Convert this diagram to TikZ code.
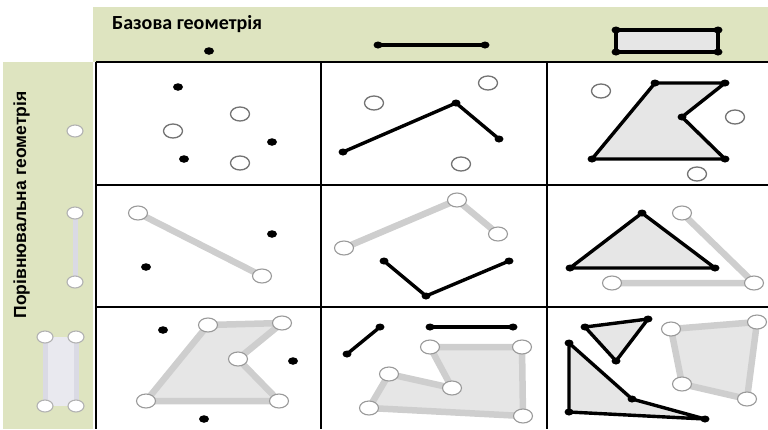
\documentclass[tikz,border=0pt]{standalone}
\usepackage{fontspec}
\usetikzlibrary{shapes.geometric}
\newfontfamily\hdrfont{Carlito}
\newfontfamily\sidefont{Liberation Sans}
\definecolor{band}{RGB}{222,228,192}
\definecolor{gline}{RGB}{206,206,206}
\definecolor{gfill}{RGB}{230,230,230}
\definecolor{lfill}{RGB}{218,218,228}
\tikzset{
  gridline/.style={line width=1.4, black},
  bline/.style={line width=3.4, black, line join=round, line cap=round},
  gpath/.style={line width=6.5, gline, line join=round, line cap=round},
  bdot/.style={ellipse, fill=black, inner sep=0, minimum width=10, minimum height=7.5},
  vdot/.style={ellipse, fill=black, inner sep=0, minimum width=9, minimum height=7},
  odot/.style={ellipse, draw=black!55, fill=white, line width=1.3, inner sep=0, minimum width=19, minimum height=14},
  godot/.style={ellipse, draw=black!40, fill=white, line width=1.1, inner sep=0, minimum width=19, minimum height=14},
  sodot/.style={ellipse, draw=black!30, fill=white, line width=1.1, inner sep=0, minimum width=16, minimum height=12},
}
\begin{document}
\begin{tikzpicture}[x=1pt,y=-1pt]
\useasboundingbox (0,0) rectangle (768,429);
% bands
\fill[band] (93,7) rectangle (768,62);
\fill[band] (3,62) rectangle (93,429);
% grid
\draw[gridline] (96,62) -- (768,62);
\draw[gridline] (96,62) -- (96,429);
\draw[gridline] (321,62) -- (321,429);
\draw[gridline] (547,62) -- (547,429);
\draw[gridline] (96,185) -- (768,185);
\draw[gridline] (96,307) -- (768,307);
% headers
\node[anchor=base west, inner sep=0, font=\hdrfont\bfseries\fontsize{20}{20}\selectfont] (title) at (112,29) {Базова геометрія};
\node[rotate=90, anchor=base, inner sep=0, font=\sidefont\bfseries\fontsize{17.5}{17.5}\selectfont] (side) at (26,205) {Порівнювальна геометрія};
% top header icons
\node[bdot] (hp) at (209,51) {};
\coordinate (hla) at (378,45); \coordinate (hlb) at (485,45);
\draw[bline, line width=3.8] (hla) -- (hlb);
\node[vdot] (hl1) at (hla) {}; \node[vdot] (hl2) at (hlb) {};
\coordinate (hr1) at (616,30); \coordinate (hr2) at (718,30); \coordinate (hr3) at (718,52); \coordinate (hr4) at (616,52);
\draw[bline, line width=3.8, fill=gfill] (hr1) -- (hr2) -- (hr3) -- (hr4) -- cycle;
\foreach \c in {hr1,hr2,hr3,hr4} \node[vdot] (d\c) at (\c) {};
% side header icons
\node[sodot] (sp) at (75,131) {};
\coordinate (sla) at (75,213); \coordinate (slb) at (75,282);
\draw[gpath, lfill, line width=5] (sla) -- (slb);
\node[sodot] (sl1) at (sla) {}; \node[sodot] (sl2) at (slb) {};
\coordinate (sr1) at (45,337); \coordinate (sr2) at (76,337); \coordinate (sr3) at (76,406); \coordinate (sr4) at (45,406);
\fill[lfill!60!white] (sr1) rectangle (sr3);
\draw[gpath, lfill, line width=5] (sr1) -- (sr4);
\draw[gpath, lfill, line width=5] (sr2) -- (sr3);
\foreach \c in {sr1,sr2,sr3,sr4} \node[sodot] (d\c) at (\c) {};
% ---- cell 1,1
\node[bdot] (a1) at (178,87) {};
\node[bdot] (a2) at (272,142) {};
\node[bdot] (a3) at (184,159) {};
\node[odot] (a4) at (240,114) {};
\node[odot] (a5) at (173,131) {};
\node[odot] (a6) at (240,163) {};
% ---- cell 1,2
\coordinate (b1) at (343,152); \coordinate (b2) at (456,103); \coordinate (b3) at (499,139);
\draw[bline] (b1) -- (b2) -- (b3);
\foreach \c in {b1,b2,b3} \node[vdot] (d\c) at (\c) {};
\node[odot] (b4) at (374,103) {};
\node[odot] (b5) at (488,83) {};
\node[odot] (b6) at (461,164) {};
% ---- cell 1,3
\coordinate (c1) at (655,83); \coordinate (c2) at (725,83); \coordinate (c3) at (682,117); \coordinate (c4) at (725,159); \coordinate (c5) at (592,159);
\draw[bline, fill=gfill] (c1) -- (c2) -- (c3) -- (c4) -- (c5) -- cycle;
\foreach \c in {c1,c2,c3,c4,c5} \node[vdot] (d\c) at (\c) {};
\node[odot] (c6) at (601,91) {};
\node[odot] (c7) at (735,117) {};
\node[odot] (c8) at (697,174) {};
% ---- cell 2,1
\coordinate (e1) at (138,213); \coordinate (e2) at (262,276);
\draw[gpath] (e1) -- (e2);
\node[godot] (de1) at (e1) {}; \node[godot] (de2) at (e2) {};
\node[bdot] (e3) at (272,234) {};
\node[bdot] (e4) at (146,267) {};
% ---- cell 2,2
\coordinate (f1) at (344,248); \coordinate (f2) at (457,200); \coordinate (f3) at (498,234);
\draw[gpath] (f1) -- (f2) -- (f3);
\foreach \c in {f1,f2,f3} \node[godot] (d\c) at (\c) {};
\coordinate (f4) at (384,261); \coordinate (f5) at (426,296); \coordinate (f6) at (509,261);
\draw[bline] (f4) -- (f5) -- (f6);
\foreach \c in {f4,f5,f6} \node[vdot] (d\c) at (\c) {};
% ---- cell 2,3
\coordinate (g1) at (682,213); \coordinate (g2) at (754,283); \coordinate (g3) at (612,283);
\draw[gpath] (g1) -- (g2) -- (g3);
\coordinate (g4) at (570,268); \coordinate (g5) at (642,213); \coordinate (g6) at (715,268);
\draw[bline, fill=gfill] (g4) -- (g5) -- (g6) -- cycle;
\foreach \c in {g4,g5,g6} \node[vdot] (d\c) at (\c) {};
\foreach \c in {g1,g2,g3} \node[godot] (d\c) at (\c) {};
% ---- cell 3,1
\coordinate (h1) at (208,325); \coordinate (h2) at (282,323); \coordinate (h3) at (238,359); \coordinate (h4) at (279,401); \coordinate (h5) at (146,401);
\draw[gpath, fill=gfill] (h1) -- (h2) -- (h3) -- (h4) -- (h5) -- cycle;
\foreach \c in {h1,h2,h3,h4,h5} \node[godot] (d\c) at (\c) {};
\node[bdot] (h6) at (163,330) {};
\node[bdot] (h7) at (293,361) {};
\node[bdot] (h8) at (204,419) {};
% ---- cell 3,2
\coordinate (k1) at (430,347); \coordinate (k2) at (522,347); \coordinate (k3) at (523,416); \coordinate (k4) at (369,408); \coordinate (k5) at (389,374); \coordinate (k6) at (452,388);
\draw[gpath, fill=gfill] (k1) -- (k2) -- (k3) -- (k4) -- (k5) -- (k6) -- cycle;
\foreach \c in {k1,k2,k3,k4,k5,k6} \node[godot] (d\c) at (\c) {};
\coordinate (k7) at (347,354); \coordinate (k8) at (380,327);
\draw[bline] (k7) -- (k8);
\coordinate (k9) at (430,327); \coordinate (k10) at (513,327);
\draw[bline] (k9) -- (k10);
\foreach \c in {k7,k8,k9,k10} \node[vdot] (d\c) at (\c) {};
% ---- cell 3,3
\coordinate (m1) at (671,329); \coordinate (m2) at (757,322); \coordinate (m3) at (747,399); \coordinate (m4) at (682,384);
\draw[gpath, fill=gfill] (m1) -- (m2) -- (m3) -- (m4) -- cycle;
\foreach \c in {m1,m2,m3,m4} \node[godot] (d\c) at (\c) {};
\coordinate (m5) at (585,327); \coordinate (m6) at (648,319); \coordinate (m7) at (616,361);
\draw[bline, fill=gfill] (m5) -- (m6) -- (m7) -- cycle;
\coordinate (m8) at (569,343); \coordinate (m9) at (632,399); \coordinate (m10) at (705,419); \coordinate (m11) at (569,412);
\draw[bline, fill=gfill] (m8) -- (m9) -- (m10) -- (m11) -- cycle;
\foreach \c in {m5,m6,m7,m8,m9,m10,m11} \node[vdot] (d\c) at (\c) {};
\end{tikzpicture}
\end{document}
